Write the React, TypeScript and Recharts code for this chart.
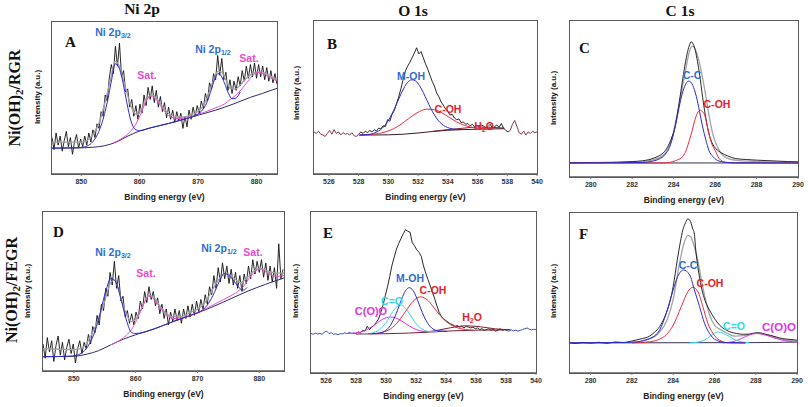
import { LineChart, Line, XAxis, YAxis } from 'recharts'

const SANS = "Arial, 'Liberation Sans', Helvetica, sans-serif"
const SERIF = "'Times New Roman', 'Liberation Serif', Times, serif"

// tick labels
const niTicks = [850, 860, 870, 880]
const oTicks = [526, 528, 530, 532, 534, 536, 538, 540]
const cTicks = [280, 282, 284, 286, 288, 290]

// ---- Ni 2p, Ni(OH)2/RGR (A) ----
const NI_START = 845
const NI_STEP = 0.35
const niRgrCounts = [
  24, 16, 27, 19, 25, 15, 22, 28, 18, 24,
  13, 21, 26, 17, 23, 18, 25, 19, 27, 21,
  29, 24, 33, 30, 41, 38, 52, 48, 63, 72,
  66, 84, 71, 86, 64, 68, 54, 56, 44, 49,
  38, 45, 36, 46, 40, 52, 45, 57, 49, 58,
  47, 55, 44, 51, 41, 47, 37, 44, 36, 42,
  34, 41, 35, 40, 30, 38, 31, 42, 36, 44,
  38, 45, 40, 48, 43, 53, 48, 60, 56, 66,
  62, 78, 65, 76, 62, 67, 55, 62, 53, 61,
  55, 64, 58, 68, 61, 71, 63, 72, 64, 73,
  63, 72, 64, 71, 62, 70, 61, 68, 60, 66, 59,
]
const niRgrEnvelope = [
  [845, 21], [850, 21], [851, 22], [852, 26], [853, 33], [854, 46], [855, 62], [855.8, 74],
  [856.5, 71], [857.2, 62], [858, 51], [858.8, 42], [859.6, 39], [860.4, 43], [861.2, 49],
  [862, 52], [862.8, 50], [863.6, 46], [864.5, 41.5], [865.5, 38.5], [866.5, 37.5], [867.5, 37.5],
  [868.5, 38.5], [869.5, 40], [870.5, 43], [871.3, 48], [872, 55], [872.8, 63], [873.4, 67.5],
  [874, 67], [874.8, 61.5], [875.6, 56], [876.4, 56], [877.2, 58.5], [878, 62], [879, 65.5],
  [880, 67], [881, 67], [882, 65], [883.5, 62],
]
const niRgrBackground = [
  [845, 17], [850, 17.2], [852, 17.6], [854, 18.6], [856, 21], [858, 25], [860, 28.3], [862, 30.5],
  [865, 33.3], [868, 36.5], [870, 38.7], [873, 42], [876, 46], [879, 50.5], [881, 53], [883.5, 56.4],
]
const niRgr2p = [
  [845, 17], [849, 17.2], [850.5, 17.8], [851.5, 19.5], [852.5, 24], [853.5, 33], [854.5, 48],
  [855.2, 62], [855.8, 72.5], [856.4, 70.5], [857.1, 61], [857.8, 47], [858.5, 35], [859.2, 29.5],
  [860, 28.5], [862, 30.5], [865, 33.3], [868, 36.5], [869.5, 38.5], [870.5, 41], [871.5, 47],
  [872.3, 56], [873, 64], [873.4, 66], [873.8, 65.3], [874.5, 60], [875.2, 53], [875.8, 49.5],
  [876.5, 50], [877.2, 54],
]
const niRgrSat = [
  [855.5, 20.5], [857, 23.5], [858.3, 27.5], [859.3, 32.5], [860.3, 40.5], [861.1, 48], [861.8, 51.3],
  [862.5, 50], [863.3, 46.5], [864.2, 41.5], [865.2, 37.8], [866.5, 36.5], [868, 37], [869.5, 38.6],
  [871, 40.5], [872.5, 42.8], [873.5, 44.3], [874.5, 46], [875.5, 49], [876.5, 52], [877.5, 56],
  [878.5, 61], [879.5, 65.5], [880.2, 66.8], [881, 66.3], [882, 64], [883.5, 61.3],
]

// ---- Ni 2p, Ni(OH)2/FEGR (D) ----
const niFegrCounts = [
  17, 8, 21, 12, 19, 6, 16, 22, 10, 18,
  7, 15, 20, 11, 17, 5, 14, 19, 11, 18,
  14, 23, 17, 28, 24, 35, 29, 42, 38, 52,
  47, 62, 54, 69, 52, 60, 44, 47, 34, 38,
  30, 36, 29, 37, 33, 44, 39, 50, 43, 53,
  45, 50, 41, 46, 36, 42, 33, 39, 29, 37,
  31, 39, 32, 38, 30, 39, 33, 41, 34, 42,
  35, 44, 37, 45, 39, 48, 42, 53, 48, 60,
  52, 65, 56, 68, 58, 66, 55, 64, 54, 62,
  52, 60, 50, 61, 55, 66, 58, 70, 61, 69,
  62, 70, 59, 68, 57, 66, 56, 65, 52, 80, 58, 64,
]
const niFegrEnvelope = [
  [845, 14], [850, 13.5], [851, 14], [852, 17], [853, 24], [854, 33], [855, 44], [856, 56],
  [856.6, 57], [857.3, 50], [858, 41], [858.7, 34], [859.4, 31], [860, 32.5], [860.7, 37],
  [861.4, 43], [862.1, 47.5], [863, 46], [864, 40.5], [865, 36], [866, 34], [867, 34], [868, 35],
  [869, 37], [870, 39], [871, 42], [872, 48], [873, 55], [874, 60], [874.5, 61.3], [875, 61],
  [876, 58], [877, 55.5], [878, 58.5], [879, 62.5], [880, 64.5], [881, 63.5], [882, 62],
  [883, 61.5], [884, 61.5],
]
const niFegrBackground = [
  [845, 9], [850, 9.3], [852, 10.5], [854, 12.8], [856, 16.5], [858, 20], [860, 22.8], [863, 26.5],
  [866, 31], [870, 36.5], [874, 43], [878, 50], [881, 54.5], [884, 58.5],
]
const niFegr2p = [
  [845, 9], [849, 9.2], [850.5, 10], [851.5, 12], [852.5, 17], [853.5, 26], [854.1, 34], [854.6, 42],
  [855.2, 50.8], [856, 58.2], [856.5, 57.5], [857.1, 52.9], [857.6, 45.5], [858.2, 36.2],
  [858.7, 29.5], [859.2, 24.7], [859.8, 23.6], [860.6, 23.8], [863, 26.5], [866, 31], [869, 35.2],
  [870.5, 37.5], [871.5, 41], [872.5, 47.5], [873.5, 56], [874.3, 61.3], [875, 60.5], [876, 56],
  [877, 51.5], [877.5, 51], [878, 52.5],
]
const niFegrSat = [
  [856, 16.5], [857.5, 19.5], [858.5, 22.5], [859.3, 26], [860.2, 32.5], [861.2, 41.5], [862.1, 47],
  [863, 45], [864, 39.5], [865, 35], [866, 33], [867.5, 33.5], [869.5, 36], [871.5, 39.5],
  [873.5, 43.5], [875, 46.5], [876.5, 50], [877.5, 53.5], [878.5, 59], [879.3, 62.5], [880, 64],
  [880.8, 63], [881.8, 60.5], [882.8, 59.5], [884, 60],
]

// ---- O 1s, Ni(OH)2/RGR (B) ----
const O_STEP = 0.15
const oRgrCountsLow = [
  27.5, 26.5, 28, 26, 25.5, 24.5, 26.5, 28.5, 26, 29, 26.5,
  27.5, 25.5, 27, 26, 26.5, 25.5, 27, 25, 24.5, 26,
]
const oRgrCounts = [
  26, 27.5, 26.5, 28, 27, 28.5, 27.5, 29, 28, 30,
  29.5, 31.5, 31, 35.5, 34.5, 39, 41.5, 46, 50.5, 56,
  62, 67.5, 70.5, 73, 76, 79, 82.5, 78.5, 80, 76,
  72, 68.5, 64.5, 60.5, 57.5, 53, 50.5, 47, 45, 42.5,
  41, 38.5, 39, 36.5, 35.5, 36, 33.5, 34, 32.5, 33,
  31.5, 32.5, 31, 32, 30.5, 32, 31.5, 30, 31, 32.5,
  30, 31, 32, 30.5, 33, 30, 28.5, 27.5,
]
const oRgrCountsHigh = [27.5, 28.5, 32.5, 35, 31, 27, 26, 28, 25.5, 27.5, 26.5, 28, 27, 27.5]
const oRgrBackground = [
  [528, 25.4], [530, 25.6], [531, 26], [532, 26.8], [533, 27.8], [534, 28.6], [535, 29], [537.8, 29.6],
]
const oRgrMOH = [
  [528.1, 25.5], [528.6, 25.8], [529.1, 26.9], [529.6, 30], [529.85, 32.8], [530.1, 36.6],
  [530.35, 41.4], [530.6, 46.8], [530.85, 52.3], [531.1, 57.1], [531.35, 60.4], [531.6, 61.6],
  [531.85, 60.7], [532.1, 57.7], [532.35, 53.3], [532.6, 48.1], [532.85, 43], [533.1, 38.6],
  [533.35, 35.1], [533.6, 32.6], [534.1, 30], [534.6, 29.1], [535.1, 29.1],
]
const oRgrCOH = [
  [528.1, 25.6], [528.6, 25.7], [529.1, 26.1], [529.6, 27], [530.1, 28.5], [530.6, 30.9],
  [531.1, 34.3], [531.6, 37.9], [532.1, 40.9], [532.6, 42.4], [533.1, 42], [533.6, 40],
  [534.1, 37], [534.6, 34], [535.1, 31.9], [535.6, 30.5], [536.1, 29.8], [536.6, 29.5], [537.1, 29.5],
]
const oRgrH2O = [[533, 27.9], [534, 29], [535, 29.9], [536, 30.7], [537, 30.5], [537.8, 30]]

// ---- O 1s, Ni(OH)2/FEGR (E) ----
const oFegrCountsLow = [
  24.5, 24, 24.8, 24.2, 24.6, 24, 25.5, 26, 24.5, 25, 24,
  24.3, 23.8, 24.5, 24.2, 25, 24.4, 25.2, 24.6, 24.8, 24.5,
]
const oFegrCounts = [
  24.5, 25.5, 25, 26.5, 26, 29, 27, 28.5, 29.5, 31.5,
  33.5, 37.5, 42, 48, 53.5, 60, 67, 72, 77, 80.5,
  83.5, 86.5, 89, 88, 87.5, 81, 79, 76.5, 75, 72.5,
  66.5, 62, 58, 54, 50, 46, 41.5, 37.5, 35, 33.5,
  32.5, 31.5, 30.5, 30, 29, 29.5, 28.5, 29, 28, 29,
  28.5, 28, 28.5, 27.5, 28, 27, 27.5, 26.5, 27, 27.5,
  26.5, 27, 26, 26.5, 27.5, 26.5, 27, 26.5,
]
const oFegrCountsHigh = [26.5, 26, 26.8, 26.2, 26.6, 26, 26.5, 27, 27.5, 28, 27.2, 26.8, 27.2, 26.9]
const oFegrBackground = [
  [528, 24.2], [530, 24.4], [531.5, 24.8], [533, 25.5], [534.5, 26.2], [536, 26.6], [538, 26.8],
]
const oFegrCOOO = [
  [527.3, 24.5], [527.8, 24.7], [528.3, 25.4], [528.8, 27.3], [529.3, 30.3], [529.8, 33.5],
  [530.3, 34.8], [530.8, 33.6], [531.3, 30.7], [531.8, 27.9], [532.3, 26.2], [532.8, 25.7], [533.3, 25.7],
]
const oFegrCO = [
  [528.45, 24.3], [528.95, 24.6], [529.2, 25.1], [529.45, 26.2], [529.7, 28], [529.95, 30.7],
  [530.2, 34.3], [530.45, 38.1], [530.7, 41], [530.95, 42.2], [531.2, 41.2], [531.45, 38.4],
  [531.7, 34.8], [531.95, 31.3], [532.2, 28.7], [532.45, 27], [532.7, 26.1], [532.95, 25.7], [533.45, 25.6],
]
const oFegrMOH = [
  [529.05, 24.4], [529.55, 24.8], [529.8, 25.4], [530.05, 26.9], [530.3, 29.6], [530.55, 34.1],
  [530.8, 39.8], [531.05, 46.1], [531.3, 51.1], [531.55, 53], [531.8, 51.3], [532.05, 46.5],
  [532.3, 40.4], [532.55, 34.8], [532.8, 30.6], [533.05, 27.9], [533.3, 26.6], [533.55, 26.1], [534.05, 25.9],
]
const oFegrCOH = [
  [528.8, 24.4], [529.3, 24.5], [529.8, 25.4], [530.3, 27.4], [530.8, 31.7], [531.3, 38.2],
  [531.8, 44.5], [532.3, 47.3], [532.8, 45], [533.3, 39.3], [533.8, 33.8], [534.3, 30], [534.8, 28],
  [535.3, 27], [535.8, 26.6],
]
const oFegrH2O = [
  [532.3, 25.2], [533.3, 26.3], [534.3, 28.1], [535.3, 29.3], [536.3, 28.7], [537.3, 27.4], [538.3, 26.9],
]

// ---- C 1s, Ni(OH)2/RGR (C) ----
const cRgrCounts = [
  [279, 9.2], [280, 9.3], [281, 9.4], [281.5, 9.6], [282, 9.9], [282.5, 10.4], [282.8, 11.1],
  [283.1, 12.4], [283.3, 13.6], [283.5, 15.5], [283.7, 19], [283.9, 25], [284.05, 31], [284.2, 42],
  [284.35, 55], [284.5, 68], [284.65, 79], [284.75, 84], [284.85, 86.7], [284.95, 85], [285.05, 81],
  [285.15, 74], [285.25, 66], [285.4, 51], [285.55, 38], [285.7, 28], [285.85, 22], [286.05, 18],
  [286.3, 15.5], [286.6, 13.5], [287, 11.8], [287.5, 11.2], [288, 10.8], [288.5, 10.5], [289, 10.2],
  [289.5, 9.9], [290, 9.7],
]
const cRgrEnvelope = [
  [279, 9], [282, 9.3], [283, 11], [283.5, 14], [283.9, 24], [284.2, 42], [284.5, 63], [284.8, 82],
  [284.9, 84], [285.1, 80], [285.3, 70], [285.5, 56], [285.7, 40], [285.9, 27], [286.2, 17],
  [286.6, 12], [287.2, 10.5], [288, 10], [290, 9.3],
]
const cRgrBackground = [[279, 9], [290, 9]]
const cRgrCC = [
  [279, 9], [282.5, 9.3], [283, 10.2], [283.3, 11.5], [283.6, 14.6], [283.8, 19], [284, 27.8],
  [284.15, 37], [284.3, 47], [284.45, 55], [284.6, 60], [284.73, 61.5], [284.85, 60.5], [285, 56],
  [285.1, 51.4], [285.25, 42], [285.4, 32.1], [285.55, 24], [285.7, 17.1], [285.9, 13], [286.05, 11.1],
  [286.3, 9.9], [286.5, 9.4], [287, 9.1], [290, 9],
]
const cRgrCOH = [
  [279, 9], [283.5, 9], [283.8, 9.3], [284.1, 10.5], [284.45, 13.3], [284.6, 17], [284.76, 23.6],
  [284.9, 30], [285, 35.3], [285.15, 41], [285.28, 42.8], [285.4, 41.8], [285.5, 39.6], [285.6, 34],
  [285.7, 27.8], [285.85, 21], [286, 17.1], [286.2, 11.8], [286.5, 9.4], [287, 9], [290, 9],
]

// ---- C 1s, Ni(OH)2/FEGR (F) ----
const cFegrCounts = [
  [279, 18.9], [279.3, 18.5], [279.6, 19.1], [280, 18.7], [280.4, 19.2], [280.8, 18.6], [281.2, 19.4],
  [281.6, 19], [282, 20], [282.2, 20.6], [282.5, 21.5], [282.85, 23], [283.1, 25.5], [283.34, 28.9],
  [283.5, 32.5], [283.66, 37.2], [283.85, 45], [284, 54], [284.2, 70.7], [284.35, 82], [284.47, 89.5],
  [284.6, 94], [284.71, 96.4], [284.8, 95.5], [284.87, 93.7], [284.95, 90], [285.02, 87.5],
  [285.1, 76], [285.2, 66], [285.36, 54], [285.5, 47], [285.6, 43.5], [285.76, 39.3], [286, 34.1],
  [286.25, 29.9], [286.57, 26.8], [287.06, 24.7], [287.4, 24.2], [287.7, 24.3], [288, 25],
  [288.2, 25.1], [288.45, 24.3], [288.7, 23.6], [289, 22.5], [289.3, 21.5], [289.65, 21], [290, 20.5],
]
const cFegrEnvelope = [
  [279, 18.8], [282, 19.2], [282.8, 21], [283.3, 25], [283.7, 33], [284, 46], [284.3, 68], [284.5, 80],
  [284.7, 86], [284.85, 85], [285, 80], [285.2, 70], [285.4, 56], [285.6, 44], [285.8, 35], [286, 30],
  [286.3, 27], [286.6, 25], [287, 23], [287.5, 23.5], [288, 25], [288.5, 24], [289, 22], [289.5, 20.5],
  [290, 19.8],
]
const cFegrBackground = [[279, 18.8], [288, 19], [290, 19.3]]
const cFegrCC = [
  [279, 18.8], [282, 19.2], [282.85, 21.5], [283.34, 26.8], [283.66, 37.2], [284, 51.9], [284.22, 60.3],
  [284.5, 64.4], [284.8, 61.3], [285.03, 51.9], [285.28, 41.4], [285.52, 31], [285.76, 24.7],
  [286.09, 20.5], [286.57, 19], [287.5, 18.8],
]
const cFegrCOH = [
  [282, 18.8], [282.85, 19.5], [283.5, 22.2], [284, 29.9], [284.39, 41.4], [284.71, 50.8],
  [284.95, 53.6], [285.2, 50.8], [285.44, 41.4], [285.68, 31], [285.93, 24.7], [286.25, 20.5],
  [286.73, 18.8], [287.5, 18.8],
]
const cFegrCO = [
  [284.8, 18.9], [285.2, 19.3], [285.5, 20.5], [285.8, 23], [286, 24.8], [286.17, 25.7], [286.4, 25],
  [286.7, 23], [287, 20.8], [287.3, 19.5], [287.7, 18.9],
]
const cFegrCOOO = [
  [286.4, 18.8], [286.9, 19.6], [287.3, 21.5], [287.7, 23.8], [288.03, 24.7], [288.4, 24], [288.8, 22.3],
  [289.2, 20.8], [289.6, 19.8], [290, 19.3],
]

type Row = { x: number; y: number }
const pts = (list: number[][]): Row[] => list.map(([x, y]) => ({ x, y }))
const channels = (start: number, step: number, ys: number[]): Row[] =>
  ys.map((y, i) => ({ x: Math.round((start + i * step) * 1000) / 1000, y }))

interface Series {
  data: Row[]
  color: string
  width?: number
  smooth?: boolean
}

interface PanelProps {
  left: number
  top: number
  width: number
  height: number
  domain: [number, number]
  ticks: number[]
  series: Series[]
}

const AXIS_H = 30
const PAD = 12
const FRAME = '#5a5a5a'

function Panel({ left, top, width, height, domain, ticks, series }: PanelProps) {
  return (
    <div style={{ position: 'absolute', left: left - PAD, top: top - 4 }}>
      <LineChart
        width={width + PAD * 2}
        height={height + AXIS_H + 4}
        margin={{ top: 4, right: PAD, bottom: 0, left: PAD }}
      >
        <XAxis
          type="number"
          dataKey="x"
          domain={domain}
          ticks={ticks}
          interval={0}
          allowDataOverflow
          height={AXIS_H}
          axisLine={{ stroke: FRAME, strokeWidth: 1.3 }}
          tickLine={{ stroke: '#777' }}
          tickSize={2}
          tickMargin={3}
          tick={{ fill: '#333', fontSize: 7, fontWeight: 700, fontFamily: SANS }}
        />
        <YAxis type="number" domain={[0, 100]} allowDataOverflow hide />
        {series.map((s, i) => (
          <Line
            key={i}
            data={s.data}
            dataKey="y"
            type={s.smooth ? 'monotone' : 'linear'}
            stroke={s.color}
            strokeWidth={s.width ?? 1}
            dot={false}
            activeDot={false}
            isAnimationActive={false}
          />
        ))}
      </LineChart>
    </div>
  )
}

const BLACK = '#111111'
const GRAY = '#a3a3a3'
const BLUE = '#2a2ad2'
const PINK = '#ee4ccf'
const RED = '#f0283a'
const CYAN = '#2fd8ea'
const MAGENTA = '#e232e2'
const NAVY = '#2b2b66'
const MAROON = '#7a2033'
const LBL_BLUE = '#2f6cd4'
const LBL_PINK = '#e64ccc'
const LBL_RED = '#e3222c'

function Sub({ children }: { children: string }) {
  return (
    <tspan fontSize="0.68em" dy={2.5}>
      {children}
    </tspan>
  )
}

function Ann({ x, y, color, size = 10.5, children }: { x: number; y: number; color: string; size?: number; children: React.ReactNode }) {
  return (
    <text x={x} y={y + 3.6} textAnchor="middle" fill={color} fontFamily={SANS} fontWeight={700} fontSize={size}>
      {children}
    </text>
  )
}

function VLabel({ x, y, size, family, children }: { x: number; y: number; size: number; family: string; children: React.ReactNode }) {
  return (
    <text
      transform={`translate(${x},${y}) rotate(-90)`}
      y={size * 0.34}
      textAnchor="middle"
      fill="#111"
      fontFamily={family}
      fontWeight={700}
      fontSize={size}
    >
      {children}
    </text>
  )
}

const boxes = [
  { key: 'A', left: 52, top: 22, width: 225, height: 152 },
  { key: 'B', left: 314, top: 21, width: 223, height: 153 },
  { key: 'C', left: 570, top: 21, width: 228, height: 156 },
  { key: 'D', left: 43, top: 212, width: 241, height: 159 },
  { key: 'E', left: 311, top: 212, width: 225, height: 161 },
  { key: 'F', left: 570, top: 213, width: 227, height: 160 },
]

export default function App() {
  const [a, b, c, d, e, f] = boxes
  return (
    <div style={{ position: 'absolute', left: 0, top: 0, width: 808, height: 407, background: '#fff', overflow: 'hidden' }}>
      {/* plot frames, drawn as plain boxes behind the charts */}
      {boxes.map((bx) => (
        <div
          key={'frame-' + bx.key}
          style={{
            position: 'absolute',
            left: bx.left - 1,
            top: bx.top - 1,
            width: bx.width,
            height: bx.height,
            border: `1.5px solid ${FRAME}`,
            boxSizing: 'content-box',
          }}
        />
      ))}
      <Panel
        {...a}
        domain={[845, 883.5]}
        ticks={niTicks}
        series={[
          { data: channels(NI_START, NI_STEP, niRgrCounts), color: BLACK, width: 0.9 },
          { data: pts(niRgrEnvelope), color: GRAY, width: 1.3, smooth: true },
          { data: pts(niRgrBackground), color: NAVY, smooth: true },
          { data: pts(niRgrSat), color: PINK, smooth: true },
          { data: pts(niRgr2p), color: BLUE, smooth: true },
        ]}
      />
      <Panel
        {...b}
        domain={[525, 540]}
        ticks={oTicks}
        series={[
          { data: channels(525, O_STEP, oRgrCountsLow), color: MAROON, width: 0.9 },
          { data: channels(538.05, O_STEP, oRgrCountsHigh), color: MAROON, width: 0.9 },
          { data: channels(528, O_STEP, oRgrCounts), color: BLACK, width: 0.9 },
          { data: pts(oRgrBackground), color: '#3a1828', smooth: true },
          { data: pts(oRgrH2O), color: MAROON, smooth: true },
          { data: pts(oRgrCOH), color: RED, smooth: true },
          { data: pts(oRgrMOH), color: BLUE, smooth: true },
        ]}
      />
      <Panel
        {...c}
        domain={[279, 290]}
        ticks={cTicks}
        series={[
          { data: pts(cRgrBackground), color: '#333355' },
          { data: pts(cRgrEnvelope), color: GRAY, width: 1.3, smooth: true },
          { data: pts(cRgrCounts), color: BLACK, width: 0.9, smooth: true },
          { data: pts(cRgrCOH), color: RED, smooth: true },
          { data: pts(cRgrCC), color: BLUE, smooth: true },
        ]}
      />
      <Panel
        {...d}
        domain={[845, 884]}
        ticks={niTicks}
        series={[
          { data: channels(NI_START, NI_STEP, niFegrCounts), color: BLACK, width: 0.9 },
          { data: pts(niFegrEnvelope), color: GRAY, width: 1.3, smooth: true },
          { data: pts(niFegrBackground), color: NAVY, smooth: true },
          { data: pts(niFegrSat), color: PINK, smooth: true },
          { data: pts(niFegr2p), color: BLUE, smooth: true },
        ]}
      />
      <Panel
        {...e}
        domain={[525, 540]}
        ticks={oTicks}
        series={[
          { data: channels(525, O_STEP, oFegrCountsLow), color: '#2a3ab8', width: 0.9 },
          { data: channels(538.05, O_STEP, oFegrCountsHigh), color: '#2a3ab8', width: 0.9 },
          { data: channels(528, O_STEP, oFegrCounts), color: BLACK, width: 0.9 },
          { data: pts(oFegrBackground), color: MAROON, smooth: true },
          { data: pts(oFegrH2O), color: MAROON, smooth: true },
          { data: pts(oFegrCOOO), color: MAGENTA, smooth: true },
          { data: pts(oFegrCO), color: CYAN, smooth: true },
          { data: pts(oFegrCOH), color: RED, smooth: true },
          { data: pts(oFegrMOH), color: BLUE, smooth: true },
        ]}
      />
      <Panel
        {...f}
        domain={[279, 290]}
        ticks={cTicks}
        series={[
          { data: pts(cFegrBackground), color: '#333355' },
          { data: pts(cFegrEnvelope), color: GRAY, width: 1.3, smooth: true },
          { data: pts(cFegrCounts), color: BLACK, width: 0.9, smooth: true },
          { data: pts(cFegrCOOO), color: MAGENTA, smooth: true },
          { data: pts(cFegrCO), color: CYAN, smooth: true },
          { data: pts(cFegrCOH), color: RED, smooth: true },
          { data: pts(cFegrCC), color: BLUE, smooth: true },
        ]}
      />

      <svg width={808} height={407} style={{ position: 'absolute', left: 0, top: 0, pointerEvents: 'none' }}>
        {/* column titles */}
        <text x={142} y={14} textAnchor="middle" fontFamily={SERIF} fontWeight={700} fontSize={15.5} fill="#111">Ni 2p</text>
        <text x={413} y={16} textAnchor="middle" fontFamily={SERIF} fontWeight={700} fontSize={15.5} fill="#111">O 1s</text>
        <text x={680} y={16} textAnchor="middle" fontFamily={SERIF} fontWeight={700} fontSize={15.5} fill="#111">C 1s</text>

        {/* row labels */}
        <VLabel x={15} y={98} size={16} family={SERIF}>
          Ni(OH)<tspan fontSize={11} dy={3}>2</tspan><tspan dy={-3}>/RGR</tspan>
        </VLabel>
        <VLabel x={12} y={290} size={16} family={SERIF}>
          Ni(OH)<tspan fontSize={11} dy={3}>2</tspan><tspan dy={-3}>/FEGR</tspan>
        </VLabel>

        {/* y axis titles */}
        <VLabel x={37} y={97} size={8} family={SANS}>Intensity (a.u.)</VLabel>
        <VLabel x={296} y={93} size={8} family={SANS}>Intensity (a.u.)</VLabel>
        <VLabel x={553} y={98} size={8} family={SANS}>Intensity (a.u.)</VLabel>
        <VLabel x={27} y={291} size={8} family={SANS}>Intensity (a.u.)</VLabel>
        <VLabel x={295} y={291} size={8} family={SANS}>Intensity (a.u.)</VLabel>
        <VLabel x={553} y={291} size={8} family={SANS}>Intensity (a.u.)</VLabel>

        {/* x axis titles */}
        {boxes.map((bx) => (
          <text
            key={bx.key}
            x={bx.left + bx.width / 2}
            y={bx.top + bx.height + 25.5}
            textAnchor="middle"
            fontFamily={SANS}
            fontWeight={700}
            fontSize={8.5}
            fill="#222"
          >
            Binding energy (eV)
          </text>
        ))}

        {/* panel letters */}
        <text x={65} y={47} fontFamily={SERIF} fontWeight={700} fontSize={15} fill="#111">A</text>
        <text x={327} y={49} fontFamily={SERIF} fontWeight={700} fontSize={15} fill="#111">B</text>
        <text x={579} y={53} fontFamily={SERIF} fontWeight={700} fontSize={15} fill="#111">C</text>
        <text x={53} y={237} fontFamily={SERIF} fontWeight={700} fontSize={15} fill="#111">D</text>
        <text x={323} y={238} fontFamily={SERIF} fontWeight={700} fontSize={15} fill="#111">E</text>
        <text x={579} y={239} fontFamily={SERIF} fontWeight={700} fontSize={15} fill="#111">F</text>

        {/* peak annotations */}
        <Ann x={113} y={32} color={LBL_BLUE}>Ni 2p<Sub>3/2</Sub></Ann>
        <Ann x={147} y={75} color={LBL_PINK}>Sat.</Ann>
        <Ann x={213} y={49} color={LBL_BLUE}>Ni 2p<Sub>1/2</Sub></Ann>
        <Ann x={249} y={58} color={LBL_PINK}>Sat.</Ann>

        <Ann x={411} y={76} color={LBL_BLUE}>M-OH</Ann>
        <Ann x={448} y={109} color={LBL_RED}>C-OH</Ann>
        <Ann x={484} y={126} color={LBL_RED}>H<Sub>2</Sub><tspan dy={-2.5}>O</tspan></Ann>

        <Ann x={692} y={75} color={LBL_BLUE}>C-C</Ann>
        <Ann x={717} y={104} color={LBL_RED}>C-OH</Ann>

        <Ann x={113} y={252} color={LBL_BLUE}>Ni 2p<Sub>3/2</Sub></Ann>
        <Ann x={146} y={273} color={LBL_PINK}>Sat.</Ann>
        <Ann x={219} y={248} color={LBL_BLUE}>Ni 2p<Sub>1/2</Sub></Ann>
        <Ann x={253} y={252} color={LBL_PINK}>Sat.</Ann>

        <Ann x={410} y={278} color={LBL_BLUE}>M-OH</Ann>
        <Ann x={433} y={290} color={LBL_RED}>C-OH</Ann>
        <Ann x={392} y={301} color={CYAN}>C=O</Ann>
        <Ann x={371} y={311} color={MAGENTA} size={11}>C(O)O</Ann>
        <Ann x={472} y={317} color={LBL_RED}>H<Sub>2</Sub><tspan dy={-2.5}>O</tspan></Ann>

        <Ann x={688} y={265} color={LBL_BLUE}>C-C</Ann>
        <Ann x={710} y={283} color={LBL_RED}>C-OH</Ann>
        <Ann x={734} y={326} color={CYAN}>C=O</Ann>
        <Ann x={779} y={327} color={MAGENTA} size={11.5}>C(O)O</Ann>
      </svg>
    </div>
  )
}
